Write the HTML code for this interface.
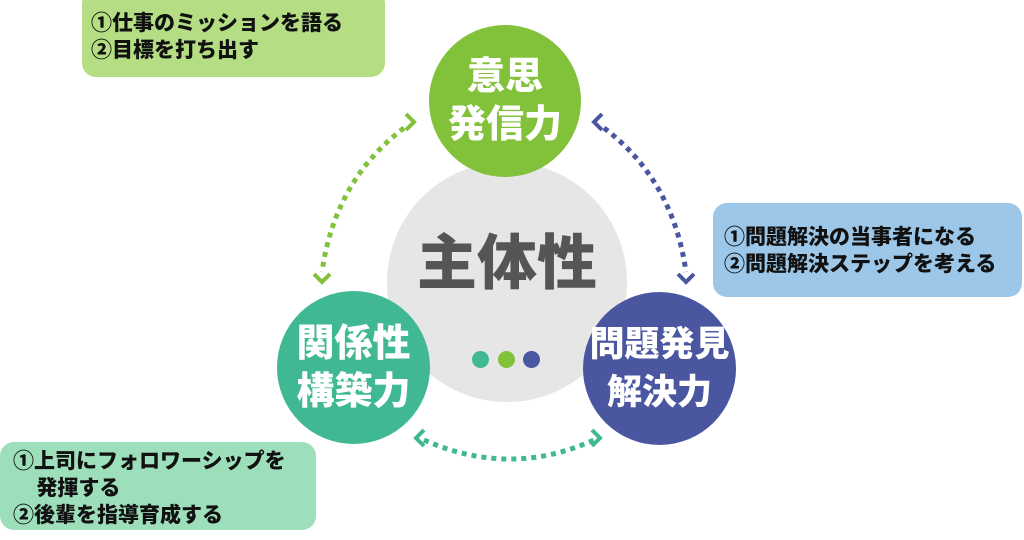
<!DOCTYPE html>
<html><head><meta charset="utf-8"><style>
body{margin:0;width:1024px;height:540px;background:#fff;position:relative;overflow:hidden;font-family:"Liberation Sans","Noto Sans CJK JP",sans-serif;font-weight:900}
.box{position:absolute;border-radius:14px;color:#111;font-size:21px;line-height:27px;white-space:nowrap}
.c{position:absolute;border-radius:50%;display:flex;align-items:center;justify-content:center;text-align:center;color:#fff;font-size:38px;line-height:48px}
</style></head><body>
<div class="box" style="left:82px;top:-10px;width:303px;height:87px;background:#b4dd84"><div style="position:absolute;left:9px;top:20px">①仕事のミッションを語る<br>②目標を打ち出す</div></div>
<div class="box" style="left:713px;top:203px;width:309px;height:94px;background:#9cc7e8"><div style="position:absolute;left:11px;top:21px">①問題解決の当事者になる<br>②問題解決ステップを考える</div></div>
<div class="box" style="left:0;top:442px;width:316px;height:88px;background:#9ddfba"><div style="position:absolute;left:13px;top:6px">①上司にフォロワーシップを<br>&nbsp;&nbsp;&nbsp;&nbsp;発揮する<br>②後輩を指導育成する</div></div>
<div class="c" style="left:387px;top:162px;width:240px;height:240px;background:#e6e6e6"></div>
<div style="position:absolute;left:387px;top:230px;width:240px;text-align:center;font-size:60px;color:#555;line-height:68px">主体性</div>
<div class="c" style="left:472px;top:351px;width:17px;height:17px;background:#3fb893"></div>
<div class="c" style="left:498px;top:351px;width:17px;height:17px;background:#82c13a"></div>
<div class="c" style="left:523px;top:351px;width:17px;height:17px;background:#4b56a1"></div>
<div class="c" style="left:429px;top:25px;width:152px;height:152px;background:#82c13a">意思<br>発信力</div>
<div class="c" style="left:277px;top:291px;width:153px;height:153px;background:#3fb893">関係性<br>構築力</div>
<div class="c" style="left:583px;top:292px;width:153px;height:153px;background:#4b56a1;font-size:35px">問題発見<br>解決力</div>
<svg width="1024" height="540" style="position:absolute;left:0;top:0" fill="none" stroke-width="5">
<path d="M404 128 Q335 180 322 272" stroke="#82c13a" stroke-dasharray="5 5"/>
<path d="M406 114 L414 122 L406 130" stroke="#82c13a" stroke-width="4"/>
<path d="M314 274 L322 282 L330 274" stroke="#82c13a" stroke-width="4"/>
<path d="M604 128 Q673 180 686 272" stroke="#4b56a1" stroke-dasharray="5 5"/>
<path d="M602 114 L594 122 L602 130" stroke="#4b56a1" stroke-width="4"/>
<path d="M678 274 L686 282 L694 274" stroke="#4b56a1" stroke-width="4"/>
<path d="M424 440 Q510 478 594 440" stroke="#3fb893" stroke-dasharray="5 5"/>
<path d="M424 430 L416 438 L424 446" stroke="#3fb893" stroke-width="4"/>
<path d="M592 430 L600 438 L592 446" stroke="#3fb893" stroke-width="4"/>
</svg>
</body></html>
